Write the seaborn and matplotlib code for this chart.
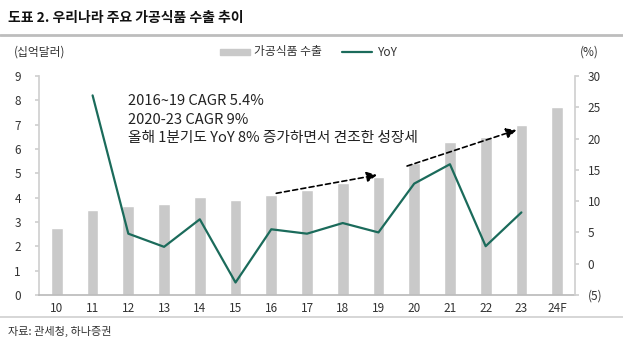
import numpy as np
import pandas as pd
import matplotlib
matplotlib.use("Agg")
import matplotlib.pyplot as plt
import seaborn as sns

# ---- data ----
categories = ["10", "11", "12", "13", "14", "15", "16", "17", "18", "19", "20", "21", "22", "23", "24F"]
exports = [2.77, 3.49, 3.66, 3.75, 4.03, 3.90, 4.12, 4.32, 4.60, 4.84, 5.43, 6.28, 6.48, 7.00, 7.72]
yoy = [np.nan, 26.9, 4.8, 2.7, 7.1, -3.0, 5.5, 4.8, 6.5, 5.0, 12.8, 15.9, 2.8, 8.2, np.nan]
right_ticks = [-5, 0, 5, 10, 15, 20, 25, 30]
right_labels = ["(5)", "0", "5", "10", "15", "20", "25", "30"]
arrows = [((6.14, 4.18), (8.96, 4.93)), ((9.8, 5.3), (12.86, 6.78))]
note_lines = ["2016~19 CAGR 5.4%", "2020-23 CAGR 9%", "올해 1분기도 YoY 8% 증가하면서 견조한 성장세"]

sns.set_theme(style="white")
plt.rcParams["font.family"] = ["Noto Sans CJK KR", "DejaVu Sans"]

bar_color = "#c9c9c9"
line_color = "#1b6b5b"
text_color = "#333333"
axis_color = "#d0d0d0"

df = pd.DataFrame({"cat": categories, "pos": np.arange(len(categories)),
                   "exports": exports, "yoy": yoy})

fig = plt.figure(figsize=(6.23, 3.49), dpi=100)
ax = fig.add_axes([39/623, 1-295/349, (575-39)/623, (295-76)/349])

sns.barplot(data=df, x="pos", y="exports", color=bar_color, width=0.33,
            saturation=1, ax=ax, native_scale=True, label="가공식품 수출")
ax.set_xlim(-0.5, len(categories) - 0.5)
ax.set_ylim(0, 9)
ax.set_yticks(range(0, 10))
ax.set_xticks(np.arange(len(categories)))
ax.set_xticklabels(categories)
ax.set_xticks(np.arange(len(categories) + 1) - 0.5, minor=True)
ax.tick_params(axis="x", which="major", length=0, labelsize=8.5, colors=text_color, pad=5)
ax.tick_params(axis="x", which="minor", length=3, color="#aaaaaa", direction="out")
ax.tick_params(axis="y", length=3, color=axis_color, labelsize=8.5, labelcolor=text_color, pad=10)
ax.set_xlabel("")
ax.set_ylabel("")
for s in ["top", "right"]:
    ax.spines[s].set_visible(False)
ax.spines["left"].set_color(axis_color)
ax.spines["bottom"].set_color("#bbbbbb")

ax2 = ax.twinx()
sns.lineplot(data=df, x="pos", y="yoy", color=line_color, linewidth=1.6, ax=ax2, label="YoY")
ax2.set_ylim(-5, 30)
ax2.set_yticks(right_ticks)
ax2.set_yticklabels(right_labels)
ax2.tick_params(axis="y", length=3, color=axis_color, labelsize=8.5, labelcolor=text_color, pad=6)
ax2.set_xlabel("")
ax2.set_ylabel("")
for s in ["top", "left", "bottom"]:
    ax2.spines[s].set_visible(False)
ax2.spines["right"].set_color(axis_color)
ax2.set_xlim(-0.5, len(categories) - 0.5)
if ax2.get_legend():
    ax2.get_legend().remove()
if ax.get_legend():
    ax.get_legend().remove()

# arrows
for (x0, y0), (x1, y1) in arrows:
    ax.annotate("", xy=(x1, y1), xytext=(x0, y0),
                arrowprops=dict(arrowstyle="-|>", linestyle=(0, (3, 2)), color="black",
                                lw=1.2, mutation_scale=15, shrinkA=0, shrinkB=0))

# note text
for i, t in enumerate(note_lines):
    fig.text(128/623, 1 - (101 + i*18.5)/349, t, fontsize=10.6, color="#222222", va="center")

# legend (manual)
from matplotlib.patches import Rectangle
from matplotlib.lines import Line2D
fig.patches.append(Rectangle((220/623, 1-55/349), 30/623, 6/349, transform=fig.transFigure,
                             color=bar_color, figure=fig))
fig.text(254/623, 1-52/349, "가공식품 수출", fontsize=8.5, color=text_color, va="center")
fig.lines.append(Line2D([342/623, 372/623], [1-52/349, 1-52/349], transform=fig.transFigure,
                        color=line_color, lw=1.6, figure=fig))
fig.text(378/623, 1-52/349, "YoY", fontsize=8.5, color=text_color, va="center")

# units
fig.text(14/623, 1-52/349, "(십억달러)", fontsize=8.5, color=text_color, va="center")
fig.text(580/623, 1-52/349, "(%)", fontsize=8.5, color=text_color, va="center")

# title and frame lines
fig.text(8/623, 1-18/349, "도표 2. 우리나라 주요 가공식품 수출 추이", fontsize=10,
         fontweight="bold", color="#111111", va="center")
fig.lines.append(Line2D([0, 1], [1-35/349, 1-35/349], transform=fig.transFigure,
                        color="#bdbdbd", lw=2, figure=fig))
fig.lines.append(Line2D([0, 1], [1-317/349, 1-317/349], transform=fig.transFigure,
                        color="#cfcfcf", lw=1.2, figure=fig))
fig.text(8/623, 1-331/349, "자료: 관세청, 하나증권", fontsize=8, color=text_color, va="center")

fig.savefig("out.png", dpi=100)
